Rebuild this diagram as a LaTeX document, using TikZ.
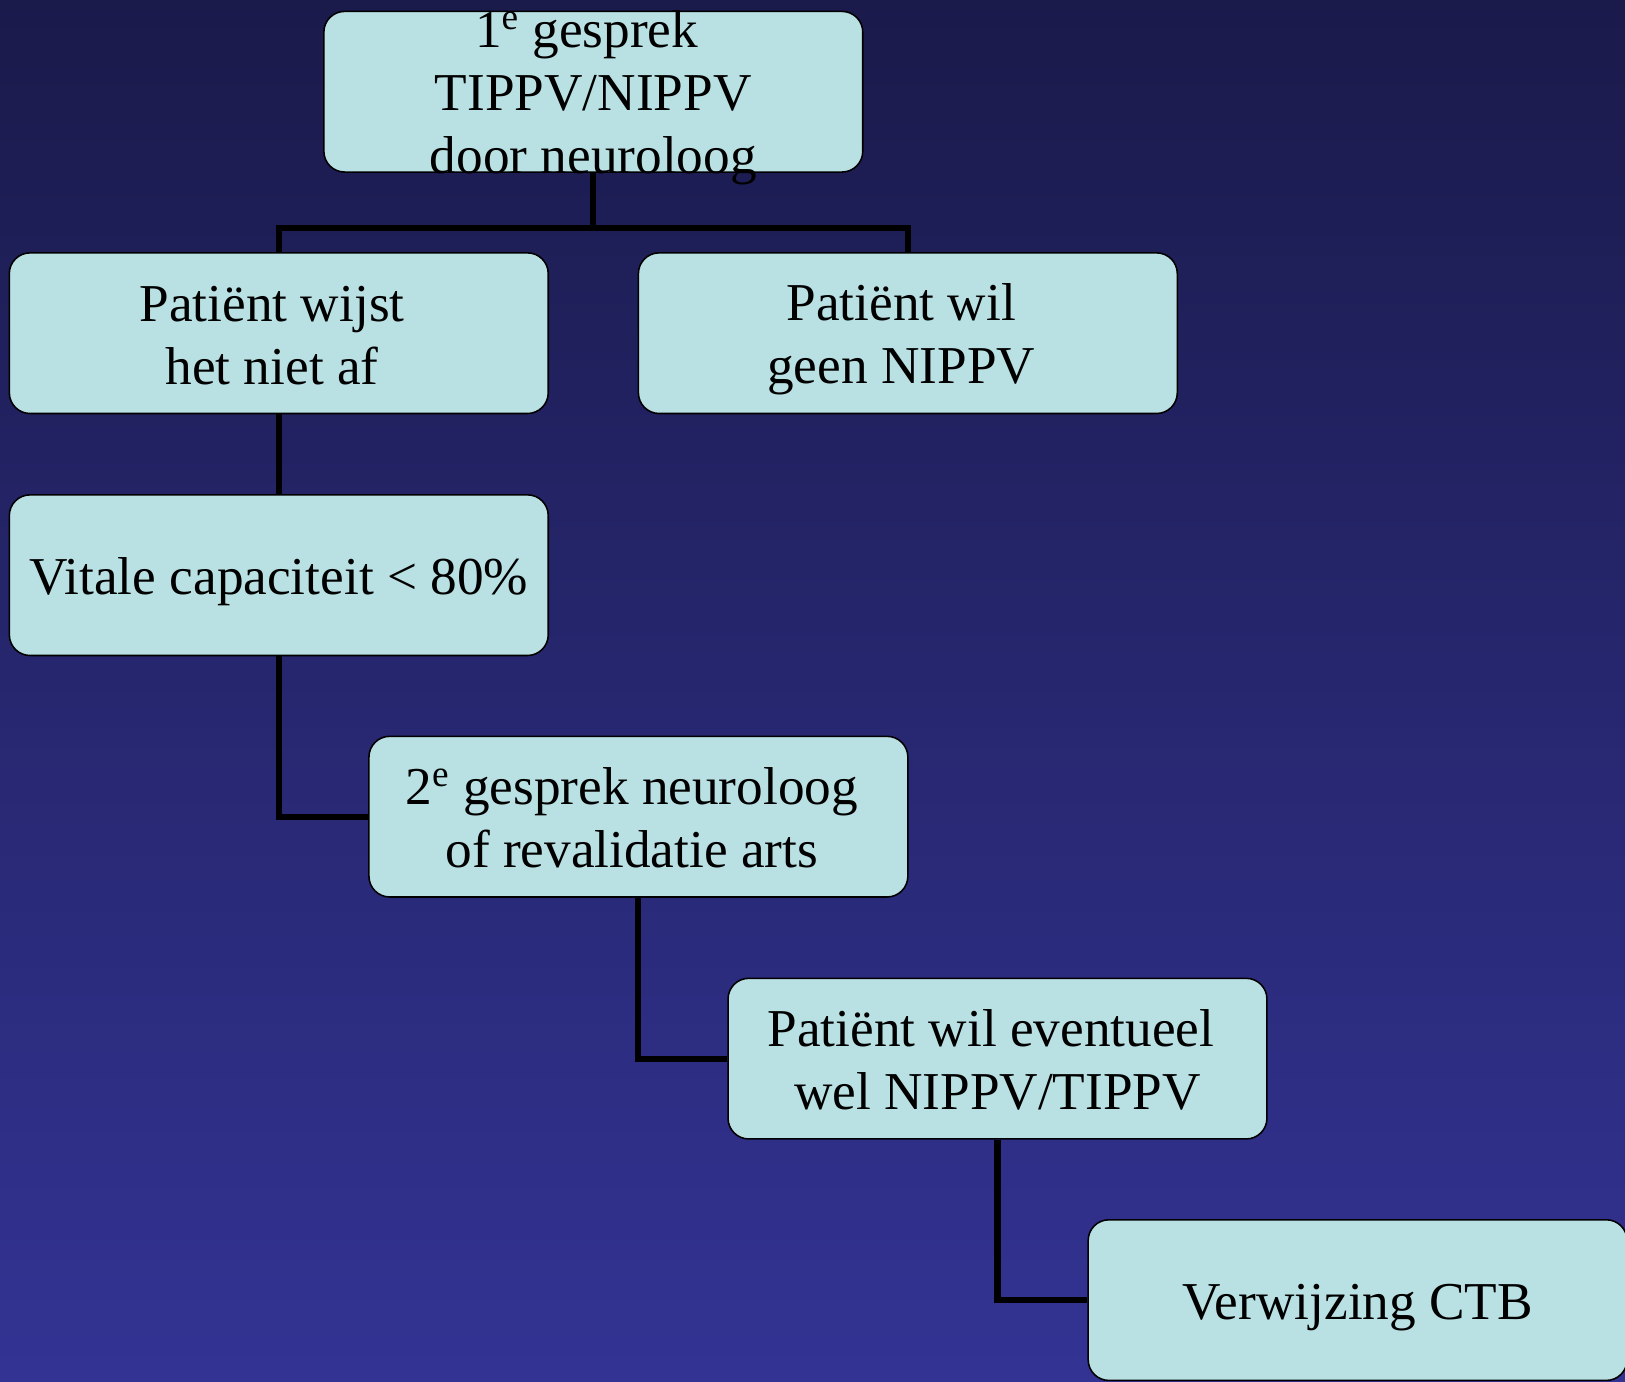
\documentclass[tikz,border=0pt]{standalone}
\usepackage{fontspec}
\setmainfont{Liberation Serif}
\definecolor{bgtop}{HTML}{1A1A4B}
\definecolor{bgbot}{HTML}{333394}
\definecolor{boxfill}{HTML}{B9E0E3}
\newcommand{\lstrut}{\rule[-5pt]{0pt}{29pt}}
\newcommand{\tsp}{\kern0.25em}
\tikzset{
  box/.style={draw=black, line width=0.75pt, fill=boxfill, rounded corners=10pt,
    minimum width=260pt, minimum height=77.5pt, inner sep=0pt},
  txt/.style={align=center, inner sep=0pt, text=black,
    font=\fontsize{25.7pt}{30.35pt}\selectfont},
  conn/.style={draw=black, line width=2.9pt}
}
\begin{document}
\begin{tikzpicture}[x=0.5pt,y=-0.5pt]
\useasboundingbox (0,0) rectangle (1568,1333);
\clip (0,0) rectangle (1568,1333);
\fill[top color=bgtop, bottom color=bgbot] (0,0) rectangle (1568,1333);

\node[box] (A) at (572.5,88.5) {};
\node[box, txt] (B) at (269,321.5) {\lstrut Patiënt wijst\tsp\\\lstrut het niet af\tsp};
\node[box, txt] (C) at (876,321.5) {\lstrut Patiënt wil\tsp\\\lstrut geen NIPPV\tsp};
\node[box, txt] (D) at (269,555) {\lstrut Vitale capaciteit {<} 80\%};
\node[box, txt] (E) at (616,788) {\lstrut 2\textsuperscript{e} gesprek neuroloog\tsp\\\lstrut of revalidatie arts\tsp};
\node[box, txt] (F) at (962.5,1021.5) {\lstrut Patiënt wil eventueel\tsp\\\lstrut wel NIPPV/TIPPV};
\node[box, txt] (G) at (1310,1254.5) {\lstrut Verwijzing CTB};

\draw[conn] (A.south) -- ++(0,53) coordinate (J);
\draw[conn] (B.north) |- (J) -| (C.north);
\draw[conn] (B.south) -- (D.north);
\draw[conn] (D.south) |- (E.west);
\draw[conn] (E.south) |- (F.west);
\draw[conn] (F.south) |- (G.west);

\node[txt] (At) at (A.center) {\lstrut 1\textsuperscript{e} gesprek\tsp\\\lstrut TIPPV/NIPPV\\\lstrut door neuroloog};
\end{tikzpicture}
\end{document}
